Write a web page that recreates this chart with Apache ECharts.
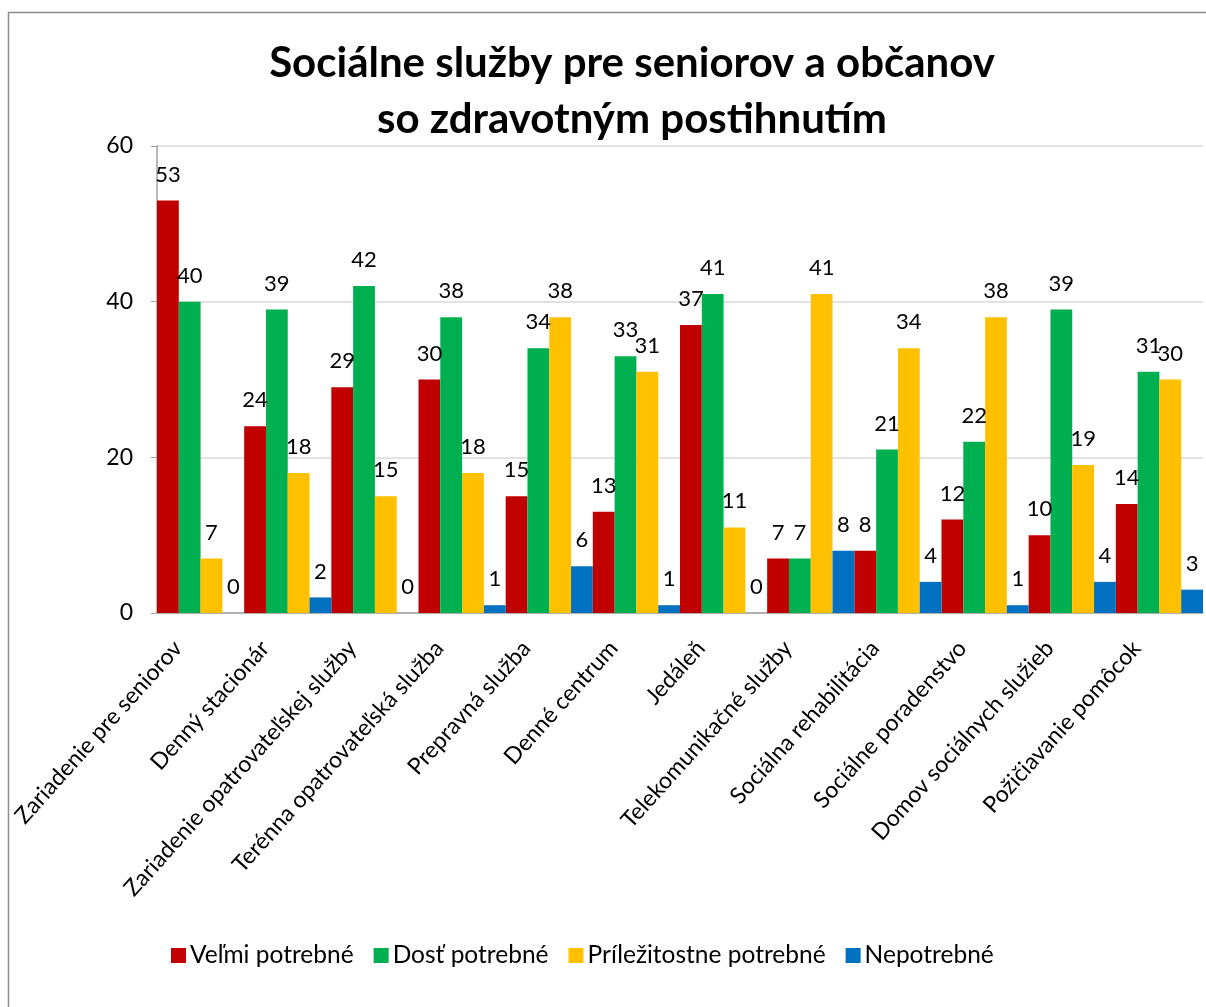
<!DOCTYPE html>
<html><head><meta charset="utf-8">
<script src="https://cdn.jsdelivr.net/npm/echarts@6/dist/echarts.min.js"></script>
<style>html,body{margin:0;padding:0;background:#fff}#c{width:1206px;height:1007px}</style>
</head><body><div id="c"></div>
<script>
const categories = ["Zariadenie pre seniorov","Denný stacionár","Zariadenie opatrovateľskej služby","Terénna opatrovateľská služba","Prepravná služba","Denné centrum","Jedáleň","Telekomunikačné služby","Sociálna rehabilitácia","Sociálne poradenstvo","Domov sociálnych služieb","Požičiavanie pomôcok"];
const velmiPotrebne = [53,24,29,30,15,13,37,7,8,12,10,14];
const dostPotrebne = [40,39,42,38,34,33,41,7,21,22,39,31];
const prilezitostnePotrebne = [7,18,15,18,38,31,11,41,34,38,19,30];
const nepotrebne = [0,2,0,1,6,1,0,8,4,1,4,3];
const seriesNames = ["Veľmi potrebné","Dosť potrebné","Príležitostne potrebné","Nepotrebné"];
const colors = ["#C00000","#00B050","#FFC000","#0070C0"];
const yTicks = [0,20,40,60];

const font = "Lato, 'Open Sans', sans-serif";
const chart = echarts.init(document.getElementById('c'));
const mk = (name, data, color) => ({
  name, type:'bar', data, barGap:'0%', barCategoryGap:'0%',
  itemStyle:{color},
  label:{show:true, position:'top', distance:15, color:'#000', fontSize:22, fontFamily:font},
  emphasis:{disabled:true}
});
chart.setOption({
  animation:false,
  backgroundColor:'#fff',
  graphic:[{type:'rect', shape:{x:8.5,y:12.5,width:1210,height:1010}, style:{fill:'none', stroke:'#8c8c8c', lineWidth:1.5}, silent:true}],
  title:{text:'Sociálne služby pre seniorov a občanov\nso zdravotným postihnutím', left:627, textAlign:'center', top:30,
    textStyle:{fontFamily:font, fontWeight:'bold', fontSize:42, lineHeight:56, color:'#000'}},
  legend:{bottom:34, left:166, itemWidth:15, itemHeight:15, itemGap:20, icon:'rect',
    textStyle:{fontFamily:font, fontSize:24.5, color:'#000', padding:[0,0,0,-1]}, data:seriesNames},
  grid:{left:157, right:3, top:146, bottom:394, containLabel:false},
  xAxis:{type:'category', data:categories,
    axisLine:{lineStyle:{color:'#a0a0a0', width:1.5}}, axisTick:{show:false},
    axisLabel:{rotate:48, interval:0, fontFamily:font, fontSize:23, color:'#000', margin:6, padding:[0,34,0,0]}},
  yAxis:{type:'value', min:yTicks[0], max:yTicks[yTicks.length-1], interval:20,
    axisLine:{show:true, lineStyle:{color:'#a0a0a0', width:1.5}},
    axisTick:{show:true, length:6, lineStyle:{color:'#a0a0a0'}},
    splitLine:{lineStyle:{color:'#d9d9d9', width:1.5}},
    axisLabel:{fontFamily:font, fontSize:23, color:'#000', margin:24}},
  series:[mk(seriesNames[0],velmiPotrebne,colors[0]), mk(seriesNames[1],dostPotrebne,colors[1]),
          mk(seriesNames[2],prilezitostnePotrebne,colors[2]), mk(seriesNames[3],nepotrebne,colors[3])]
});
</script></body></html>
